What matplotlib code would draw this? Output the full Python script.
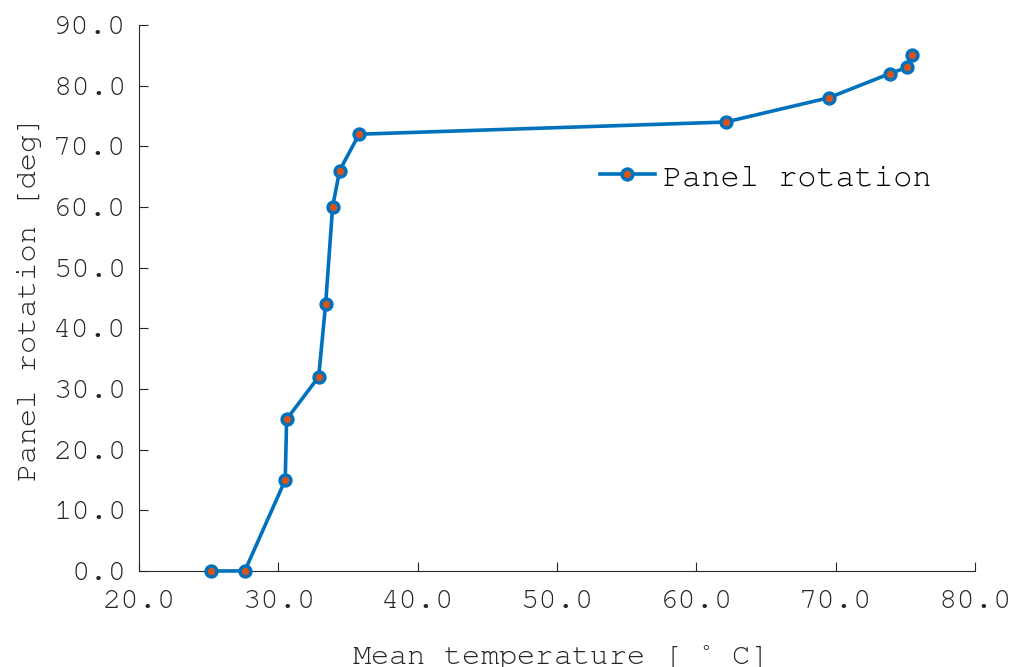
import matplotlib
matplotlib.use("Agg")
import matplotlib.pyplot as plt

# data
mean_temp = [25.2, 27.6, 30.5, 30.6, 32.9, 33.4, 33.9, 34.4, 35.8, 62.1, 69.5, 73.9, 75.1, 75.5]
rotation = [0, 0, 15, 25, 32, 44, 60, 66, 72, 74, 78, 82, 83, 85]

x_ticks = [20, 30, 40, 50, 60, 70, 80]
y_ticks = [0, 10, 20, 30, 40, 50, 60, 70, 80, 90]

plt.rcParams['font.family'] = ['FreeMono', 'Liberation Mono', 'DejaVu Sans Mono']
plt.rcParams['mathtext.fontset'] = 'custom'
plt.rcParams['mathtext.rm'] = 'FreeMono'

fig = plt.figure(figsize=(10.14, 6.67), dpi=100)
ax = fig.add_axes([0.137, 0.144, 0.8245, 0.8185])

ax.plot(mean_temp, rotation, color='#0072BD', linewidth=2.6, marker='o',
        markersize=7.8, markerfacecolor='#D95319', markeredgecolor='#0072BD',
        markeredgewidth=2.5, label='Panel rotation', clip_on=False, zorder=3)

ax.set_xlim(20, 80)
ax.set_ylim(0, 90)
ax.set_xticks(x_ticks)
ax.set_yticks(y_ticks)
ax.set_xticklabels([f"{v:.1f}" for v in x_ticks])
ax.set_yticklabels([f"{v:.1f}" for v in y_ticks])

for s in ['top', 'right']:
    ax.spines[s].set_visible(False)
for s in ['left', 'bottom']:
    ax.spines[s].set_color('#262626')
    ax.spines[s].set_linewidth(0.8)

ax.tick_params(direction='in', length=6.5, width=0.8, colors='#262626',
               labelsize=22, labelcolor='#262626')
ax.tick_params(axis='y', pad=9)
ax.tick_params(axis='x', pad=14)

ax.set_xlabel(r"Mean temperature [ $^{\circ}$ C]", fontsize=22, color='#262626', labelpad=21)
ax.set_ylabel("Panel rotation [deg]", fontsize=22, color='#262626', labelpad=8)

leg = ax.legend(loc='center left', bbox_to_anchor=(0.551, 0.7216), frameon=False,
                fontsize=23, handlelength=1.72, handletextpad=0.25,
                borderpad=0, borderaxespad=0)
for t in leg.get_texts():
    t.set_color('#000000')

fig.savefig("out.png", dpi=100)
